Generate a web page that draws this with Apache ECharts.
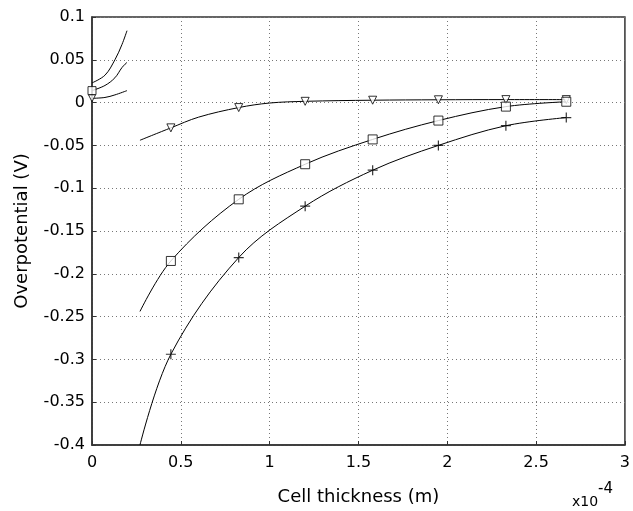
<!DOCTYPE html>
<html>
<head>
<meta charset="utf-8">
<script src="https://cdn.jsdelivr.net/npm/echarts@6/dist/echarts.min.js"></script>
<style>
html,body{margin:0;padding:0;background:#fff;}
#main{width:633px;height:511px;}
</style>
</head>
<body>
<div id="main"></div>
<script>
// x in units of 1e-4 m, y in V
var xTicks = { min: 0, max: 3, step: 0.5 };
var yTicks = { min: -0.4, max: 0.1, step: 0.05 };

// main curves (line points)
var triLine = [[0.27,-0.044],[0.444,-0.0295],[0.6,-0.017],[0.826,-0.0058],[1.0,-0.0005],[1.2,0.0015],[1.58,0.0028],[1.95,0.0033],[2.33,0.0035],[2.67,0.0035]];
var triMarks = [[0.444,-0.0295],[0.826,-0.0058],[1.2,0.0015],[1.58,0.0028],[1.95,0.0033],[2.33,0.0035],[2.67,0.0035]];

var sqLine = [[0.27,-0.244],[0.444,-0.185],[0.826,-0.113],[1.2,-0.072],[1.58,-0.043],[1.95,-0.021],[2.33,-0.0047],[2.67,0.001]];
var sqMarks = [[0.444,-0.185],[0.826,-0.113],[1.2,-0.072],[1.58,-0.043],[1.95,-0.021],[2.33,-0.0047],[2.67,0.001]];

var plusLine = [[0.27,-0.40],[0.444,-0.294],[0.826,-0.181],[1.2,-0.121],[1.58,-0.079],[1.95,-0.05],[2.33,-0.027],[2.67,-0.0175]];
var plusMarks = [[0.444,-0.294],[0.826,-0.181],[1.2,-0.121],[1.58,-0.079],[1.95,-0.05],[2.33,-0.027],[2.67,-0.0175]];

// small curves near the origin
var smallA = [[0,0.023],[0.073,0.032],[0.129,0.05],[0.169,0.068],[0.197,0.084]];
var smallB = [[0,0.014],[0.073,0.02],[0.129,0.029],[0.169,0.041],[0.197,0.047]];
var smallC = [[0,0.005],[0.073,0.006],[0.129,0.009],[0.197,0.014]];
var smallSqMarks = [[0,0.014]];
var smallTriMarks = [[0,0.005]];

var myChart = echarts.init(document.getElementById('main'));
var fontName = 'DejaVu Sans';
var plusPath = 'path://M4.4,0H5.6V10H4.4ZM0,4.4H10V5.6H0Z';

function lineSeries(data) {
	return {
		type: 'line',
		data: data,
		smooth: 0.35,
		showSymbol: false,
		lineStyle: { color: '#000', width: 1 },
		silent: true,
		z: 2
	};
}
function markSeries(data, symbol, size, rotate) {
	return {
		type: 'scatter',
		data: data,
		symbol: symbol,
		symbolSize: size,
		symbolRotate: rotate || 0,
		itemStyle: symbol === plusPath ?
			{ color: '#000' } :
			{ color: '#fff', borderColor: '#000', borderWidth: 1 },
		silent: true,
		z: 3
	};
}

var option = {
	backgroundColor: '#fff',
	animation: false,
	grid: {
		left: 92,
		right: 7,
		top: 17,
		bottom: 64,
		show: true,
		borderColor: '#333',
		borderWidth: 1.5
	},
	xAxis: {
		type: 'value',
		min: xTicks.min,
		max: xTicks.max,
		interval: xTicks.step,
		name: 'Cell thickness (m)',
		nameLocation: 'middle',
		nameGap: 43,
		nameTextStyle: { fontFamily: fontName, fontSize: 18, color: '#000' },
		axisLine: { onZero: false, lineStyle: { color: '#333', width: 1.5 } },
		axisTick: { inside: true, length: 4, lineStyle: { color: '#333' } },
		axisLabel: { fontFamily: fontName, fontSize: 16, color: '#000', margin: 10 },
		splitLine: { lineStyle: { color: '#777', type: [1, 3], width: 1 } }
	},
	yAxis: {
		type: 'value',
		min: yTicks.min,
		max: yTicks.max,
		interval: yTicks.step,
		name: 'Overpotential (V)',
		nameLocation: 'middle',
		nameGap: 61,
		nameTextStyle: { fontFamily: fontName, fontSize: 18, color: '#000' },
		axisLine: { onZero: false, lineStyle: { color: '#333', width: 1.5 } },
		axisTick: { inside: true, length: 4, lineStyle: { color: '#333' } },
		axisLabel: { fontFamily: fontName, fontSize: 16, color: '#000', margin: 7 },
		splitLine: { lineStyle: { color: '#777', type: [1, 3], width: 1 } }
	},
	graphic: [
		{ type: 'text', left: 572, top: 495, style: { text: 'x10', fontFamily: fontName, fontSize: 14, fill: '#000' } },
		{ type: 'text', left: 598, top: 482, style: { text: '-4', fontFamily: fontName, fontSize: 15, fill: '#000' } }
	],
	series: [
		lineSeries(triLine),
		lineSeries(sqLine),
		lineSeries(plusLine),
		lineSeries(smallA),
		lineSeries(smallB),
		lineSeries(smallC),
		markSeries(triMarks, 'triangle', 8, 180),
		markSeries(sqMarks, 'rect', 9),
		markSeries(plusMarks, plusPath, 10),
		markSeries(smallSqMarks, 'rect', 8),
		markSeries(smallTriMarks, 'triangle', 7, 180)
	]
};
myChart.setOption(option);
</script>
</body>
</html>
